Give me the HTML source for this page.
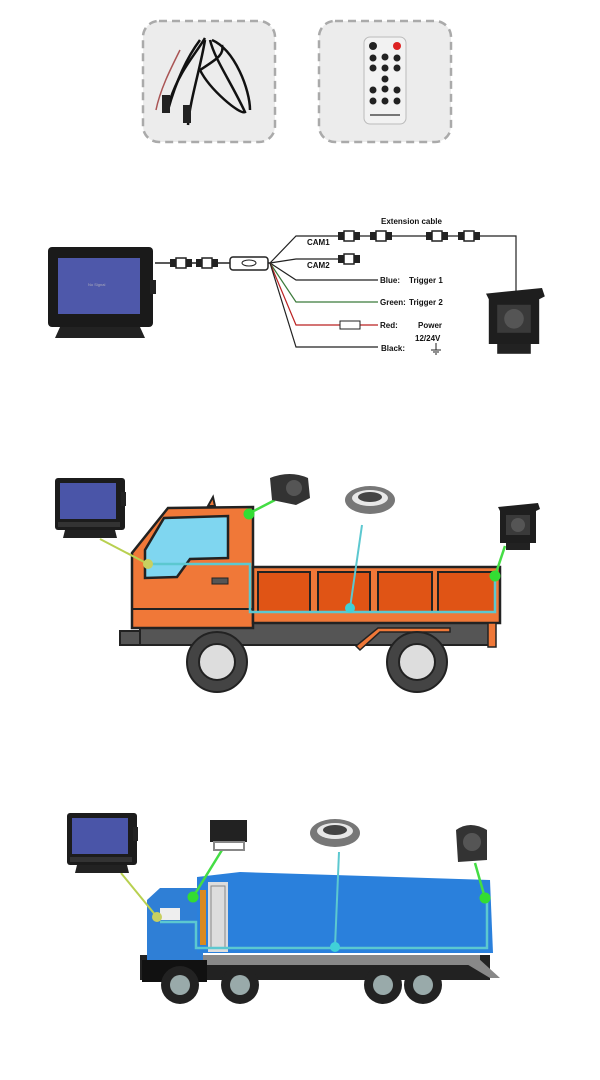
<!DOCTYPE html>
<html><head><meta charset="utf-8"><style>
html,body{margin:0;padding:0;background:#fff;width:600px;height:1080px;overflow:hidden}
svg{display:block}
text{font-family:"Liberation Sans",sans-serif;font-weight:bold;fill:#111}
</style></head><body>
<svg width="600" height="1080" viewBox="0 0 600 1080" xmlns="http://www.w3.org/2000/svg">
<defs>
<g id="mon">
  <rect x="0" y="0" width="70" height="52" rx="3" fill="#1c1c1c"/>
  <rect x="5" y="5" width="56" height="36" fill="#4a55a8"/>
  <rect x="3" y="44" width="62" height="5" fill="#333"/>
  <rect x="66" y="14" width="5" height="14" fill="#222"/>
  <path d="M10 52 L60 52 L62 60 L8 60 Z" fill="#222"/>
</g>
<g id="cam">
  <path d="M0 4 L40 0 L42 6 L38 8 L38 40 L2 40 L2 8 Z" fill="#1e1e1e"/>
  <rect x="8" y="12" width="24" height="20" fill="#3a3a3a"/>
  <circle cx="20" cy="22" r="7" fill="#555"/>
  <rect x="8" y="40" width="24" height="7" fill="#222"/>
</g>
<g id="drum">
  <ellipse cx="25" cy="15" rx="25" ry="14" fill="#777"/>
  <ellipse cx="25" cy="13" rx="18" ry="8" fill="#e8e8e8"/>
  <ellipse cx="25" cy="12" rx="12" ry="5" fill="#444"/>
</g>
<g id="conn">
  <rect x="0" y="-4" width="6" height="8" fill="#222"/>
  <rect x="6" y="-5" width="10" height="10" fill="#fff" stroke="#222" stroke-width="1.5"/>
  <rect x="16" y="-4" width="6" height="8" fill="#222"/>
</g>
</defs>

<rect x="143" y="21" width="132" height="121" rx="16" fill="#ececec" stroke="#aaa" stroke-width="2.5" stroke-dasharray="8,5"/>
<rect x="319" y="21" width="132" height="121" rx="16" fill="#ececec" stroke="#aaa" stroke-width="2.5" stroke-dasharray="8,5"/>
<g fill="none" stroke="#111" stroke-width="2.5">
  <path d="M205 38 C195 55 180 70 170 100"/>
  <path d="M210 40 C215 60 230 80 245 112 C240 115 210 90 200 70 C215 60 225 55 222 45"/>
  <path d="M212 40 C235 50 250 90 250 110"/>
  <path d="M205 40 C200 70 190 100 188 125"/>
  <path d="M200 40 C185 60 175 85 168 110"/>
</g>
<path d="M180 50 C170 70 160 90 156 110" stroke="#a55" stroke-width="1.5" fill="none"/>
<rect x="162" y="95" width="8" height="18" fill="#222"/>
<rect x="183" y="105" width="8" height="18" fill="#222"/>
<rect x="364" y="37" width="42" height="87" rx="6" fill="#f2f2f2" stroke="#bbb"/>
<circle cx="373" cy="46" r="4" fill="#222"/><circle cx="397" cy="46" r="4" fill="#d22"/>
<g fill="#222">
<circle cx="373" cy="58" r="3.5"/><circle cx="385" cy="57" r="3.5"/><circle cx="397" cy="58" r="3.5"/>
<circle cx="373" cy="68" r="3.5"/><circle cx="385" cy="68" r="3.5"/><circle cx="397" cy="68" r="3.5"/>
<circle cx="385" cy="79" r="3.5"/>
<circle cx="373" cy="90" r="3.5"/><circle cx="385" cy="89" r="3.5"/><circle cx="397" cy="90" r="3.5"/>
<circle cx="373" cy="101" r="3.5"/><circle cx="385" cy="101" r="3.5"/><circle cx="397" cy="101" r="3.5"/>
</g>
<rect x="370" y="114" width="30" height="2" fill="#777"/>

<rect x="48" y="247" width="105" height="80" rx="4" fill="#1a1a1a"/>
<rect x="58" y="258" width="82" height="56" fill="#4e58aa"/>
<text x="88" y="286" font-size="4" style="fill:#aab;font-weight:normal">No Signal</text>
<rect x="150" y="280" width="6" height="14" fill="#222"/>
<path d="M60 327 L140 327 L145 338 L55 338 Z" fill="#222"/>
<line x1="155" y1="263" x2="270" y2="263" stroke="#222" stroke-width="1.5"/>
<use href="#conn" x="170" y="263"/><use href="#conn" x="196" y="263"/>
<rect x="230" y="257" width="38" height="13" rx="3" fill="#fff" stroke="#222" stroke-width="1.5"/>
<ellipse cx="249" cy="263" rx="7" ry="3" fill="none" stroke="#222"/>
<g fill="none" stroke-width="1.2">
<path d="M270 263 L296 236 L345 236" stroke="#222"/>
<path d="M270 263 L296 259 L345 259" stroke="#222"/>
<path d="M270 263 L296 280 L378 280" stroke="#222"/>
<path d="M270 263 L296 302 L378 302" stroke="#3a7a3a"/>
<path d="M270 263 L296 325 L378 325" stroke="#b22"/>
<path d="M270 263 L296 347 L378 347" stroke="#222"/>
<path d="M360 236 L516 236 L516 292" stroke="#222"/>
</g>
<use href="#conn" x="338" y="236"/><use href="#conn" x="338" y="259"/>
<use href="#conn" x="370" y="236"/><use href="#conn" x="426" y="236"/><use href="#conn" x="458" y="236"/>
<rect x="340" y="321" width="20" height="8" fill="#fff" stroke="#222"/>
<text x="381" y="224" font-size="8">Extension cable</text>
<text x="307" y="245" font-size="8">CAM1</text>
<text x="307" y="268" font-size="8">CAM2</text>
<text x="380" y="283" font-size="8">Blue:</text><text x="409" y="283" font-size="8">Trigger 1</text>
<text x="380" y="305" font-size="8">Green:</text><text x="409" y="305" font-size="8">Trigger 2</text>
<text x="380" y="328" font-size="8">Red:</text><text x="418" y="328" font-size="8">Power</text>
<text x="415" y="341" font-size="8">12/24V</text>
<text x="381" y="351" font-size="8">Black:</text>
<g stroke="#222" stroke-width="1"><line x1="436" y1="343" x2="436" y2="350"/><line x1="431" y1="350" x2="441" y2="350"/><line x1="433" y1="352" x2="439" y2="352"/><line x1="435" y1="354" x2="437" y2="354"/></g>
<g transform="translate(486 288) scale(1.4)"><use href="#cam"/></g>

<rect x="120" y="631" width="24" height="14" fill="#555" stroke="#222" stroke-width="2"/>
<rect x="140" y="623" width="355" height="22" fill="#555" stroke="#222" stroke-width="2"/>
<path d="M132 628 L132 553 L168 508 L253 507 L253 628 Z" fill="#f07838" stroke="#222" stroke-width="2.5"/>
<path d="M208 506 L213 497 L215 506Z" fill="#f07838" stroke="#222" stroke-width="2"/>
<path d="M145 578 L145 550 L164 518 L228 516 L228 558 L190 559 L177 577 Z" fill="#7fd6f0" stroke="#222" stroke-width="2.5"/>
<rect x="212" y="578" width="16" height="6" fill="#555" stroke="#222"/>
<line x1="132" y1="609" x2="253" y2="609" stroke="#222" stroke-width="2"/>
<rect x="253" y="567" width="247" height="56" fill="#f07838" stroke="#222" stroke-width="2.5"/>
<g fill="#e05415" stroke="#222" stroke-width="2">
<rect x="258" y="572" width="52" height="40"/><rect x="318" y="572" width="52" height="40"/>
<rect x="378" y="572" width="54" height="40"/><rect x="438" y="572" width="57" height="40"/>
</g>
<rect x="488" y="623" width="8" height="24" fill="#f07838" stroke="#222" stroke-width="1.5"/>
<path d="M360 650 L380 632 L450 632 L450 628 L378 628 L356 646 Z" fill="#f07838" stroke="#222" stroke-width="1.5"/>
<g>
<circle cx="217" cy="662" r="30" fill="#444" stroke="#222" stroke-width="2"/>
<circle cx="217" cy="662" r="18" fill="#ddd" stroke="#222" stroke-width="2"/>
<circle cx="417" cy="662" r="30" fill="#444" stroke="#222" stroke-width="2"/>
<circle cx="417" cy="662" r="18" fill="#ddd" stroke="#222" stroke-width="2"/>
</g>
<path d="M148 564 L250 564 L250 612 L495 612 L495 577" fill="none" stroke="#5cc8d0" stroke-width="2.5"/>
<line x1="362" y1="525" x2="350" y2="608" stroke="#5cc8d0" stroke-width="2"/>
<line x1="100" y1="539" x2="148" y2="564" stroke="#b8d050" stroke-width="2"/>
<line x1="248" y1="514" x2="275" y2="500" stroke="#44dd44" stroke-width="2.5"/>
<line x1="495" y1="576" x2="505" y2="546" stroke="#44dd44" stroke-width="2.5"/>
<circle cx="148" cy="564" r="5" fill="#c8d060"/>
<circle cx="350" cy="608" r="5" fill="#40d0d8"/>
<circle cx="249" cy="514" r="5.5" fill="#33dd33"/>
<circle cx="495" cy="576" r="5.5" fill="#33dd33"/>
<use href="#mon" x="55" y="478"/>
<path d="M270 478 Q290 470 308 478 L310 498 L296 505 L272 500 Z" fill="#333"/>
<circle cx="294" cy="488" r="8" fill="#555"/>
<use href="#drum" x="345" y="485"/>
<use href="#cam" x="498" y="503"/>

<rect x="140" y="955" width="350" height="25" fill="#222"/>
<rect x="200" y="955" width="280" height="10" fill="#888"/>
<path d="M147 965 L147 900 L160 888 L203 888 L203 965 Z" fill="#2f7fd6"/>
<rect x="142" y="960" width="65" height="22" fill="#111"/>
<path d="M197 877 L240 872 L490 880 L493 953 L197 953 Z" fill="#2a80dc"/>
<rect x="208" y="882" width="20" height="70" fill="#ddd"/>
<rect x="211" y="886" width="14" height="62" fill="none" stroke="#888"/>
<rect x="200" y="890" width="6" height="55" fill="#d98a20"/>
<rect x="160" y="908" width="20" height="12" fill="#eee"/>
<g fill="#9aa">
<circle cx="180" cy="985" r="19" fill="#222"/><circle cx="180" cy="985" r="10"/>
<circle cx="240" cy="985" r="19" fill="#222"/><circle cx="240" cy="985" r="10"/>
<circle cx="383" cy="985" r="19" fill="#222"/><circle cx="383" cy="985" r="10"/>
<circle cx="423" cy="985" r="19" fill="#222"/><circle cx="423" cy="985" r="10"/>
</g>
<path d="M460 960 L490 978 L500 978 L478 958Z" fill="#888"/>
<path d="M160 922 L196 922 L196 948 L487 948 L487 898" fill="none" stroke="#5cc8d0" stroke-width="2.5"/>
<line x1="339" y1="852" x2="335" y2="947" stroke="#5cc8d0" stroke-width="2"/>
<line x1="121" y1="873" x2="157" y2="917" stroke="#b8d050" stroke-width="2"/>
<line x1="222" y1="850" x2="193" y2="897" stroke="#44dd44" stroke-width="2.5"/>
<line x1="475" y1="863" x2="485" y2="898" stroke="#44dd44" stroke-width="2.5"/>
<circle cx="157" cy="917" r="5" fill="#c8d060"/>
<circle cx="335" cy="947" r="5" fill="#40d0d8"/>
<circle cx="193" cy="897" r="5.5" fill="#33dd33"/>
<circle cx="485" cy="898" r="5.5" fill="#33dd33"/>
<use href="#mon" x="67" y="813"/>
<rect x="210" y="820" width="37" height="22" fill="#222"/><rect x="214" y="842" width="30" height="8" fill="none" stroke="#888" stroke-width="2"/>
<use href="#drum" x="310" y="818"/>
<path d="M456 830 Q470 820 487 830 L487 860 L458 862 Z" fill="#333"/>
<circle cx="472" cy="842" r="9" fill="#555"/>
</svg>
</body></html>
